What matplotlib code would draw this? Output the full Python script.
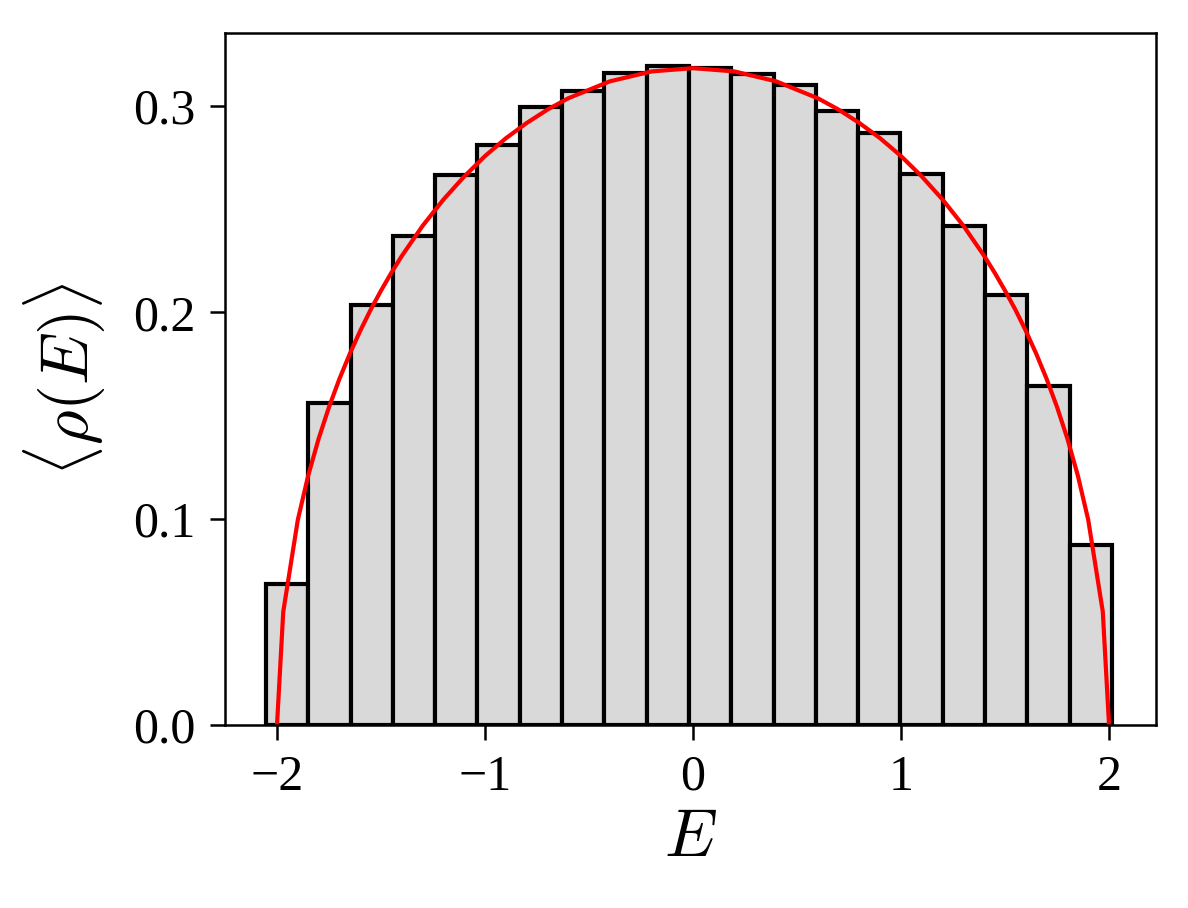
import numpy as np
import matplotlib
matplotlib.use('Agg')
import matplotlib.pyplot as plt

plt.rcParams['font.family'] = ['Liberation Serif', 'DejaVu Serif']
plt.rcParams['mathtext.fontset'] = 'cm'

# histogram bin edges and heights
bin_lo = -2.053
bin_hi = 2.014
n_bins = 20
heights = [0.0684, 0.156, 0.2036, 0.237, 0.2666, 0.281, 0.2996, 0.3073, 0.316, 0.3194,
           0.3185, 0.3156, 0.3102, 0.2976, 0.287, 0.2671, 0.2419, 0.2084, 0.1643, 0.0873]

# red reference curve (semicircle)
curve_E = [-2.0, -1.97, -1.9, -1.85, -1.8, -1.75, -1.7, -1.65, -1.6, -1.55, -1.5, -1.45, -1.4,
           -1.3, -1.2, -1.1, -1.0, -0.9, -0.8, -0.7, -0.6, -0.4, -0.2, 0.0,
           0.2, 0.4, 0.6, 0.7, 0.8, 0.9, 1.0, 1.1, 1.2, 1.3, 1.4, 1.45, 1.5, 1.55,
           1.6, 1.65, 1.7, 1.75, 1.8, 1.85, 1.9, 1.97, 2.0]
curve_rho = [0.0, 0.0549, 0.0994, 0.1209, 0.1387, 0.1541, 0.1677, 0.1799, 0.1910, 0.2012, 0.2105, 0.2192, 0.2273,
             0.2419, 0.2546, 0.2658, 0.2757, 0.2843, 0.2917, 0.2982, 0.3037, 0.3119, 0.3167, 0.3183,
             0.3167, 0.3119, 0.3037, 0.2982, 0.2917, 0.2843, 0.2757, 0.2658, 0.2546, 0.2419, 0.2273, 0.2192, 0.2105, 0.2012,
             0.1910, 0.1799, 0.1677, 0.1541, 0.1387, 0.1209, 0.0994, 0.0549, 0.0]

edges = np.linspace(bin_lo, bin_hi, n_bins + 1)

fig = plt.figure(figsize=(3.96, 3.027), dpi=300)
ax = fig.add_axes([0.1894, 0.2015, 0.7837, 0.7622])

ax.bar(edges[:-1], heights, width=np.diff(edges), align='edge',
       color='#d9d9d9', edgecolor='black', linewidth=1.0)
ax.plot(curve_E, curve_rho, color='red', linewidth=1.0)

ax.set_xlim(-2.25, 2.226)
ax.set_ylim(0, 0.3354)
ax.set_xticks([-2, -1, 0, 1, 2])
ax.set_yticks([0.0, 0.1, 0.2, 0.3])
ax.tick_params(labelsize=12, width=0.6)
for s in ax.spines.values():
    s.set_linewidth(0.6)

ax.set_xlabel(r'$E$', fontsize=16, labelpad=2)
ax.set_ylabel(r'$\langle\rho(E)\rangle$', fontsize=16, labelpad=6)

fig.savefig('out.png', dpi=300)
